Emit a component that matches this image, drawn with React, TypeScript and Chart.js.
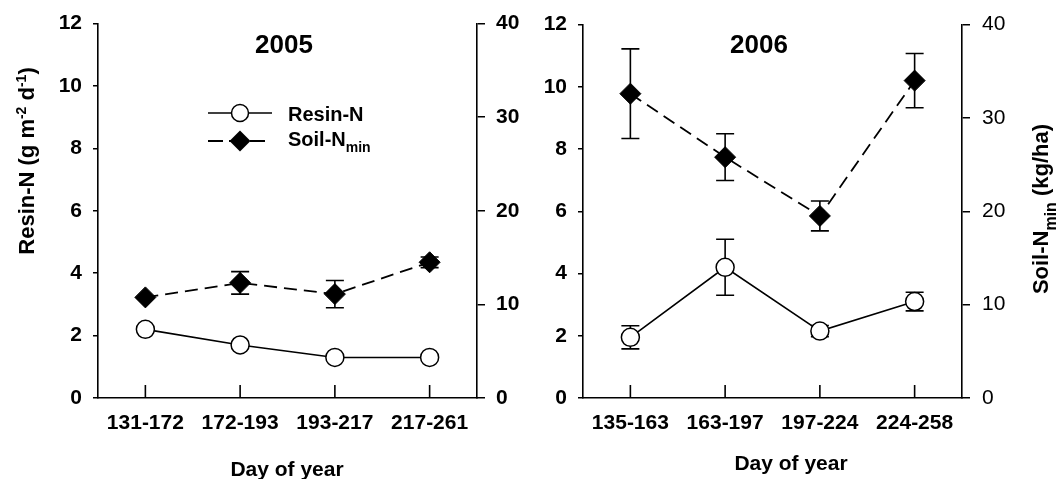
import React, { useEffect, useRef } from "react";
import { Chart, registerables } from "chart.js";

Chart.register(...registerables);

const FONT = "'Liberation Sans', Arial, Helvetica, sans-serif";

// ---- data ----
const categories2005 = ["131-172", "172-193", "193-217", "217-261"];
const resin2005 = [2.2, 1.7, 1.3, 1.3];
const resinErr2005 = [0, 0, 0, 0];
const soil2005 = [10.75, 12.3, 11.1, 14.5];
const soilErr2005 = [0, 1.2, 1.45, 0.57];

const categories2006 = ["135-163", "163-197", "197-224", "224-258"];
const resin2006 = [1.95, 4.2, 2.15, 3.1];
const resinErr2006 = [0.37, 0.9, 0.18, 0.3];
const soil2006 = [32.6, 25.8, 19.5, 34.0];
const soilErr2006 = [4.8, 2.5, 1.6, 2.9];

const resinAxis = { min: 0, max: 12, step: 2 };
const soilAxis = { min: 0, max: 40, step: 10 };

type Seg = { t: string; size: number; dy: number };

function drawRich(
  ctx: CanvasRenderingContext2D,
  x: number,
  y: number,
  angle: number,
  segs: Seg[],
  align: "left" | "center"
) {
  ctx.save();
  ctx.translate(x, y);
  ctx.rotate(angle);
  ctx.textBaseline = "alphabetic";
  ctx.textAlign = "left";
  ctx.fillStyle = "#000";
  const widths = segs.map((s) => {
    ctx.font = `bold ${s.size}px ${FONT}`;
    return ctx.measureText(s.t).width;
  });
  const total = widths.reduce((a, b) => a + b, 0);
  let cx = align === "center" ? -total / 2 : 0;
  segs.forEach((s, i) => {
    ctx.font = `bold ${s.size}px ${FONT}`;
    ctx.fillText(s.t, cx, s.dy);
    cx += widths[i];
  });
  ctx.restore();
}

const errorBarPlugin = {
  id: "errorBars",
  beforeDatasetsDraw(chart: any) {
    const ctx = chart.ctx as CanvasRenderingContext2D;
    chart.data.datasets.forEach((ds: any, di: number) => {
      if (!ds.err) return;
      const meta = chart.getDatasetMeta(di);
      const yScale = chart.scales[ds.yAxisID];
      meta.data.forEach((pt: any, i: number) => {
        const e = ds.err[i];
        if (!e) return;
        const v = ds.data[i];
        const x = pt.x;
        const yTop = yScale.getPixelForValue(v + e);
        const yBot = yScale.getPixelForValue(v - e);
        ctx.save();
        ctx.strokeStyle = "#000";
        ctx.lineWidth = 1.6;
        ctx.beginPath();
        ctx.moveTo(x, yTop);
        ctx.lineTo(x, yBot);
        ctx.moveTo(x - 9, yTop);
        ctx.lineTo(x + 9, yTop);
        ctx.moveTo(x - 9, yBot);
        ctx.lineTo(x + 9, yBot);
        ctx.stroke();
        ctx.restore();
      });
    });
  },
};

type Panel = {
  year: string;
  categories: string[];
  resin: number[];
  resinErr: number[];
  soil: number[];
  soilErr: number[];
  leftW: number;
  rightW: number;
  rightBold: boolean;
  yearX: number;
  dayX: number;
  dayY: number;
  showLegend: boolean;
  showLeftTitle: boolean;
  showRightTitle: boolean;
};

function decorPlugin(p: Panel) {
  return {
    id: "decor",
    afterDraw(chart: any) {
      const ctx = chart.ctx as CanvasRenderingContext2D;
      const area = chart.chartArea;
      const xs = chart.scales.x;
      // inward x ticks
      ctx.save();
      ctx.strokeStyle = "#000";
      ctx.lineWidth = 1.6;
      ctx.beginPath();
      p.categories.forEach((_, i) => {
        const x = xs.getPixelForValue(i);
        ctx.moveTo(x, area.bottom);
        ctx.lineTo(x, area.bottom - 13);
      });
      ctx.stroke();
      ctx.restore();

      // year title
      drawRich(ctx, p.yearX, 52.5, 0, [{ t: p.year, size: 26, dy: 0 }], "center");
      // x axis title
      drawRich(ctx, p.dayX, p.dayY, 0, [{ t: "Day of year", size: 21, dy: 0 }], "center");

      if (p.showLeftTitle) {
        drawRich(
          ctx,
          33.5,
          161,
          -Math.PI / 2,
          [
            { t: "Resin-N (g m", size: 22, dy: 0 },
            { t: "-2", size: 14, dy: -8 },
            { t: " d", size: 22, dy: 0 },
            { t: "-1", size: 14, dy: -8 },
            { t: ")", size: 22, dy: 0 },
          ],
          "center"
        );
      }
      if (p.showRightTitle) {
        drawRich(
          ctx,
          518,
          209,
          -Math.PI / 2,
          [
            { t: "Soil-N", size: 22, dy: 0 },
            { t: "min", size: 16, dy: 8 },
            { t: " (kg/ha)", size: 22, dy: 0 },
          ],
          "center"
        );
      }
      if (p.showLegend) {
        ctx.save();
        ctx.strokeStyle = "#000";
        // Resin-N row
        ctx.lineWidth = 1.6;
        ctx.beginPath();
        ctx.moveTo(208, 113);
        ctx.lineTo(272, 113);
        ctx.stroke();
        ctx.beginPath();
        ctx.arc(240, 113, 8.5, 0, Math.PI * 2);
        ctx.fillStyle = "#fff";
        ctx.fill();
        ctx.lineWidth = 1.5;
        ctx.stroke();
        // Soil row
        ctx.lineWidth = 1.8;
        ctx.setLineDash([15, 6]);
        ctx.beginPath();
        ctx.moveTo(208, 141);
        ctx.lineTo(265, 141);
        ctx.stroke();
        ctx.setLineDash([]);
        ctx.beginPath();
        ctx.moveTo(240, 130.5);
        ctx.lineTo(250.5, 141);
        ctx.lineTo(240, 151.5);
        ctx.lineTo(229.5, 141);
        ctx.closePath();
        ctx.fillStyle = "#000";
        ctx.fill();
        ctx.restore();
        drawRich(ctx, 288, 120.7, 0, [{ t: "Resin-N", size: 20, dy: 0 }], "left");
        drawRich(
          ctx,
          288,
          146,
          0,
          [
            { t: "Soil-N", size: 20, dy: 0 },
            { t: "min", size: 14, dy: 6 },
          ],
          "left"
        );
      }
    },
  };
}

function makeChart(canvas: HTMLCanvasElement, p: Panel) {
  const tickFontBold = { family: FONT, size: 21, weight: "bold" as const };
  return new Chart(canvas, {
    type: "line",
    data: {
      labels: p.categories,
      datasets: [
        {
          label: "Resin-N",
          data: p.resin,
          err: p.resinErr,
          yAxisID: "y",
          borderColor: "#000",
          borderWidth: 1.6,
          pointStyle: "circle",
          pointRadius: 9,
          pointBackgroundColor: "#fff",
          pointBorderColor: "#000",
          pointBorderWidth: 1.5,
          tension: 0,
          fill: false,
        } as any,
        {
          label: "Soil-Nmin",
          data: p.soil,
          err: p.soilErr,
          yAxisID: "y1",
          borderColor: "#000",
          borderWidth: 1.8,
          borderDash: [13, 7],
          pointStyle: "rectRot",
          pointRadius: 10.5,
          pointBackgroundColor: "#000",
          pointBorderColor: "#000",
          pointBorderWidth: 1,
          tension: 0,
          fill: false,
        } as any,
      ],
    },
    options: {
      responsive: false,
      animation: false,
      devicePixelRatio: 1,
      layout: { padding: { top: 21, left: 0, right: 0, bottom: 0 } },
      plugins: {
        legend: { display: false },
        tooltip: { enabled: false },
        title: { display: false },
      },
      scales: {
        x: {
          type: "category",
          offset: true,
          grid: { display: true, drawOnChartArea: false, drawTicks: false },
          border: { display: true, color: "#000", width: 1.6 },
          ticks: {
            color: "#000",
            font: tickFontBold,
            padding: 13,
            maxRotation: 0,
            autoSkip: false,
          },
          afterFit: (s: any) => {
            s.height = 81;
          },
        },
        y: {
          position: "left",
          min: resinAxis.min,
          max: resinAxis.max,
          ticks: { stepSize: resinAxis.step, color: "#000", font: tickFontBold, padding: 11 },
          grid: { drawOnChartArea: false, drawTicks: true, tickLength: 5, color: "#000", lineWidth: 1.5 },
          border: { display: true, color: "#000", width: 1.6 },
          afterFit: (s: any) => {
            s.width = p.leftW;
          },
        },
        y1: {
          position: "right",
          min: soilAxis.min,
          max: soilAxis.max,
          ticks: {
            stepSize: soilAxis.step,
            color: "#000",
            font: { family: FONT, size: 21, weight: p.rightBold ? "bold" : "normal" },
            padding: p.rightBold ? 11 : 12,
          },
          grid: { drawOnChartArea: false, drawTicks: true, tickLength: 8, color: "#000", lineWidth: 1.5 },
          border: { display: true, color: "#000", width: 1.6 },
          afterFit: (s: any) => {
            s.width = p.rightW;
          },
        },
      } as any,
    },
    plugins: [errorBarPlugin, decorPlugin(p)],
  });
}

const panel2005: Panel = {
  year: "2005",
  categories: categories2005,
  resin: resin2005,
  resinErr: resinErr2005,
  soil: soil2005,
  soilErr: soilErr2005,
  leftW: 98,
  rightW: 53,
  rightBold: true,
  yearX: 284,
  dayX: 287,
  dayY: 475.5,
  showLegend: true,
  showLeftTitle: true,
  showRightTitle: false,
};

const panel2006: Panel = {
  year: "2006",
  categories: categories2006,
  resin: resin2006,
  resinErr: resinErr2006,
  soil: soil2006,
  soilErr: soilErr2006,
  leftW: 53,
  rightW: 99,
  rightBold: false,
  yearX: 229,
  dayX: 261,
  dayY: 470,
  showLegend: false,
  showLeftTitle: false,
  showRightTitle: true,
};

export default function App() {
  const leftRef = useRef<HTMLCanvasElement>(null);
  const rightRef = useRef<HTMLCanvasElement>(null);

  useEffect(() => {
    const c1 = makeChart(leftRef.current!, panel2005);
    const c2 = makeChart(rightRef.current!, panel2006);
    return () => {
      c1.destroy();
      c2.destroy();
    };
  }, []);

  return (
    <div
      style={{
        position: "fixed",
        left: 0,
        top: 0,
        width: 1061,
        height: 479,
        background: "#fff",
        overflow: "hidden",
      }}
    >
      <canvas
        ref={leftRef}
        width={530}
        height={479}
        style={{ position: "absolute", left: 0, top: 0, width: 530, height: 479 }}
      />
      <canvas
        ref={rightRef}
        width={531}
        height={479}
        style={{ position: "absolute", left: 530, top: 0, width: 531, height: 479 }}
      />
    </div>
  );
}
